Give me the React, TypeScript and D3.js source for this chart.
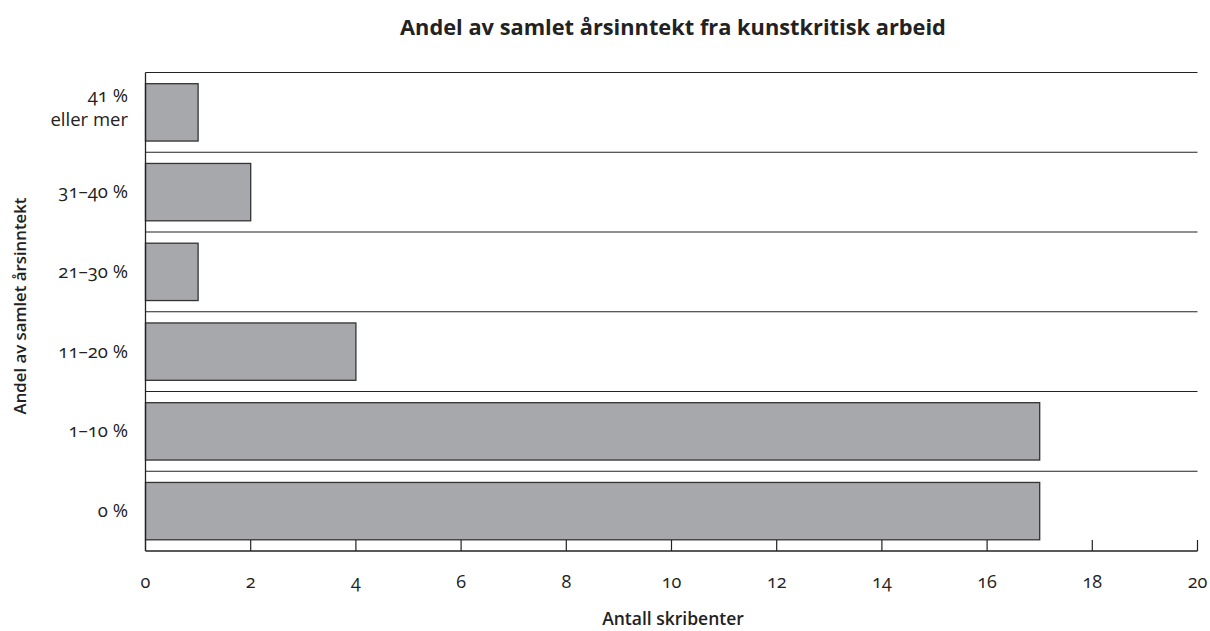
import React from "react";
import * as d3 from "d3";

const categories = ["41 %|eller mer", "31–40 %", "21–30 %", "11–20 %", "1–10 %", "0 %"];
const values = [1, 2, 1, 4, 17, 17];
const xTicks = [0, 2, 4, 6, 8, 10, 12, 14, 16, 18, 20];

const W = 1210, H = 631;
const left = 145.5, right = 1197.5, top = 72.5, bottom = 551;

export default function App() {
  const x = d3.scaleLinear().domain([0, 20]).range([left, right]);
  const y = d3.scaleBand<string>().domain(categories).range([top, bottom]).paddingInner(0).paddingOuter(0);
  const bw = y.bandwidth();
  const pad = 11.2;
  const font = "'Open Sans', 'Noto Sans', sans-serif";
  const ink = "#222";
  return (
    <svg width={W} height={H} style={{ position: "absolute", left: 0, top: 0, background: "#fff" }} fontFamily={font}>
      <text x={673} y={35} textAnchor="middle" fontSize={21.8} fontWeight={700} fill={ink}>
        Andel av samlet årsinntekt fra kunstkritisk arbeid
      </text>
      {categories.map((c, i) => (
        <line key={"g" + i} x1={left} x2={right} y1={y(c)!} y2={y(c)!} stroke={ink} strokeWidth={1.2} />
      ))}
      {categories.map((c, i) => (
        <rect key={"b" + i} x={x(0)} y={y(c)! + pad} width={x(values[i]) - x(0)} height={bw - 2 * pad}
          fill="#a7a8ab" stroke="#333" strokeWidth={1.3} />
      ))}
      <line x1={left} x2={left} y1={top} y2={bottom} stroke={ink} strokeWidth={1.3} />
      <line x1={left} x2={right} y1={bottom} y2={bottom} stroke={ink} strokeWidth={1.3} />
      {xTicks.map((t) => (
        <g key={"t" + t}>
          <line x1={x(t)} x2={x(t)} y1={bottom - 11} y2={bottom} stroke={ink} strokeWidth={1.2} />
          <text x={x(t)} y={588} textAnchor="middle" fontSize={18} fill={ink}
            style={{ fontVariantNumeric: "oldstyle-nums" }}>{t}</text>
        </g>
      ))}
      {categories.map((c, i) => {
        const parts = c.split("|");
        const cy = y(c)! + bw / 2;
        return (
          <text key={"l" + i} x={128} textAnchor="end" fontSize={18.5} fill={ink}
            style={{ fontVariantNumeric: "oldstyle-nums" }}>
            {parts.map((p, j) => (
              <tspan key={j} x={128} y={parts.length === 1 ? cy + 6 : cy + 2 + (j - 0.5) * 24}>{p}</tspan>
            ))}
          </text>
        );
      })}
      <text x={673} y={625} textAnchor="middle" fontSize={17.5} fontWeight={600} fill={ink}>Antall skribenter</text>
      <text transform={`translate(26, 306) rotate(-90)`} textAnchor="middle" fontSize={16.8}
        fontWeight={600} fill={ink}>Andel av samlet årsinntekt</text>
    </svg>
  );
}
